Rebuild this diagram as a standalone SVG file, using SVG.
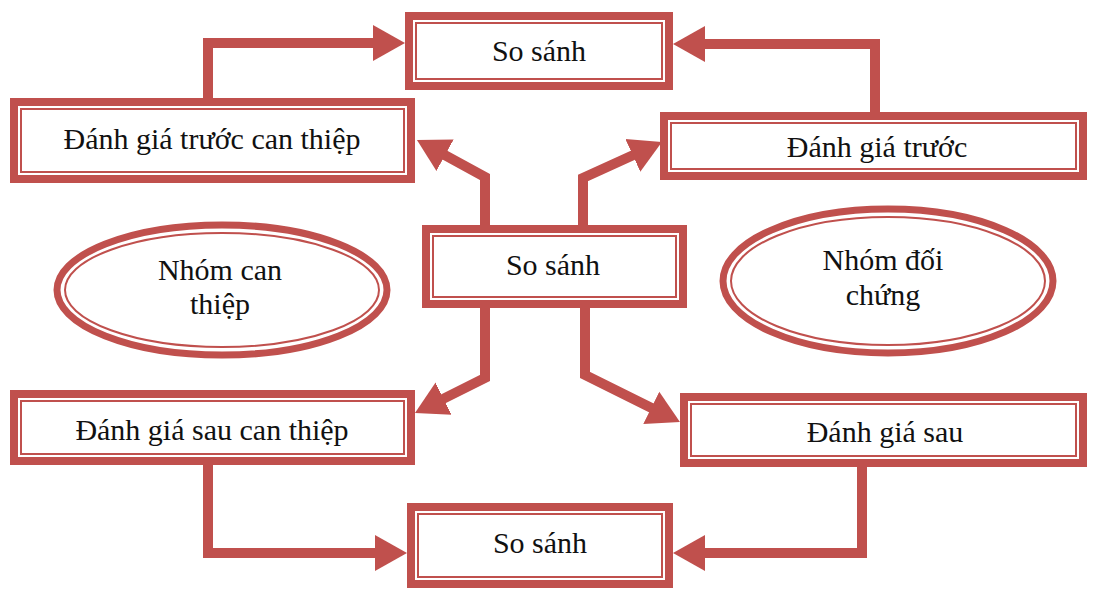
<svg xmlns="http://www.w3.org/2000/svg" width="1097" height="590" viewBox="0 0 1097 590">
<style>
.o{fill:#fff;stroke:#C0504D;stroke-width:8}
.i{fill:none;stroke:#C0504D;stroke-width:2}
.t{font-family:"Liberation Serif","Times New Roman",serif;font-size:30px;fill:#111;text-anchor:middle}
.c{fill:none;stroke:#C0504D;stroke-width:10;stroke-linejoin:miter;stroke-linecap:butt}
</style>
<defs>
<marker id="ah" markerUnits="userSpaceOnUse" markerWidth="34" markerHeight="38" viewBox="0 -19 34 38" refX="20" refY="0" orient="auto">
<path d="M0,-18 L32,0 L0,18 z" fill="#C0504D"/>
</marker>
</defs>
<rect width="1097" height="590" fill="#fff"/>
<g id="connectors">
<polyline class="c" points="208,98 208,43 393,43" marker-end="url(#ah)"/>
<polyline class="c" points="875,112 875,44 685,44" marker-end="url(#ah)"/>
<polyline class="c" points="485,225 485,177 427.5,145.7" marker-end="url(#ah)"/>
<polyline class="c" points="583,225 583,178 651,147" marker-end="url(#ah)"/>
<polyline class="c" points="485,308 485,378 425.7,407.6" marker-end="url(#ah)"/>
<polyline class="c" points="585,308 585,375 669.2,416.7" marker-end="url(#ah)"/>
<polyline class="c" points="208,465 208,553 395,553" marker-end="url(#ah)"/>
<polyline class="c" points="862,467 862,553 685,553" marker-end="url(#ah)"/>
</g>
<g id="ss-top">
<rect class="o" x="409" y="16" width="260" height="70"/>
<rect class="i" x="416" y="23" width="246" height="56"/>
<text class="t" x="539" y="61">So sánh</text>
</g>
<g id="dg-truoc-ct">
<rect class="o" x="14" y="102" width="397" height="77"/>
<rect class="i" x="21" y="109" width="383" height="63"/>
<text class="t" x="212" y="149">Đánh giá trước can thiệp</text>
</g>
<g id="dg-truoc">
<rect class="o" x="664" y="116" width="419" height="60"/>
<rect class="i" x="671" y="123" width="405" height="46"/>
<text class="t" x="877" y="157">Đánh giá trước</text>
</g>
<g id="ss-mid">
<rect class="o" x="426" y="229" width="257" height="75"/>
<rect class="i" x="433" y="236" width="243" height="61"/>
<text class="t" x="553" y="275">So sánh</text>
</g>
<g id="nhom-ct">
<ellipse class="o" cx="222" cy="290" rx="165" ry="65" style="stroke-width:7"/>
<ellipse class="i" cx="222" cy="290" rx="157" ry="57"/>
<text class="t" x="220" y="280">Nhóm can</text>
<text class="t" x="220" y="314">thiệp</text>
</g>
<g id="nhom-dc">
<ellipse class="o" cx="888" cy="281" rx="165" ry="72" style="stroke-width:7"/>
<ellipse class="i" cx="888" cy="281" rx="157" ry="64"/>
<text class="t" x="883" y="270">Nhóm đối</text>
<text class="t" x="883" y="305">chứng</text>
</g>
<g id="dg-sau-ct">
<rect class="o" x="14" y="394" width="397" height="67"/>
<rect class="i" x="21" y="401" width="383" height="53"/>
<text class="t" x="212" y="440">Đánh giá sau can thiệp</text>
</g>
<g id="dg-sau">
<rect class="o" x="684" y="397" width="399" height="66"/>
<rect class="i" x="691" y="404" width="385" height="52"/>
<text class="t" x="885" y="442">Đánh giá sau</text>
</g>
<g id="ss-bot">
<rect class="o" x="411" y="507" width="258" height="77"/>
<rect class="i" x="418" y="514" width="244" height="63"/>
<text class="t" x="540" y="553">So sánh</text>
</g>
</svg>
